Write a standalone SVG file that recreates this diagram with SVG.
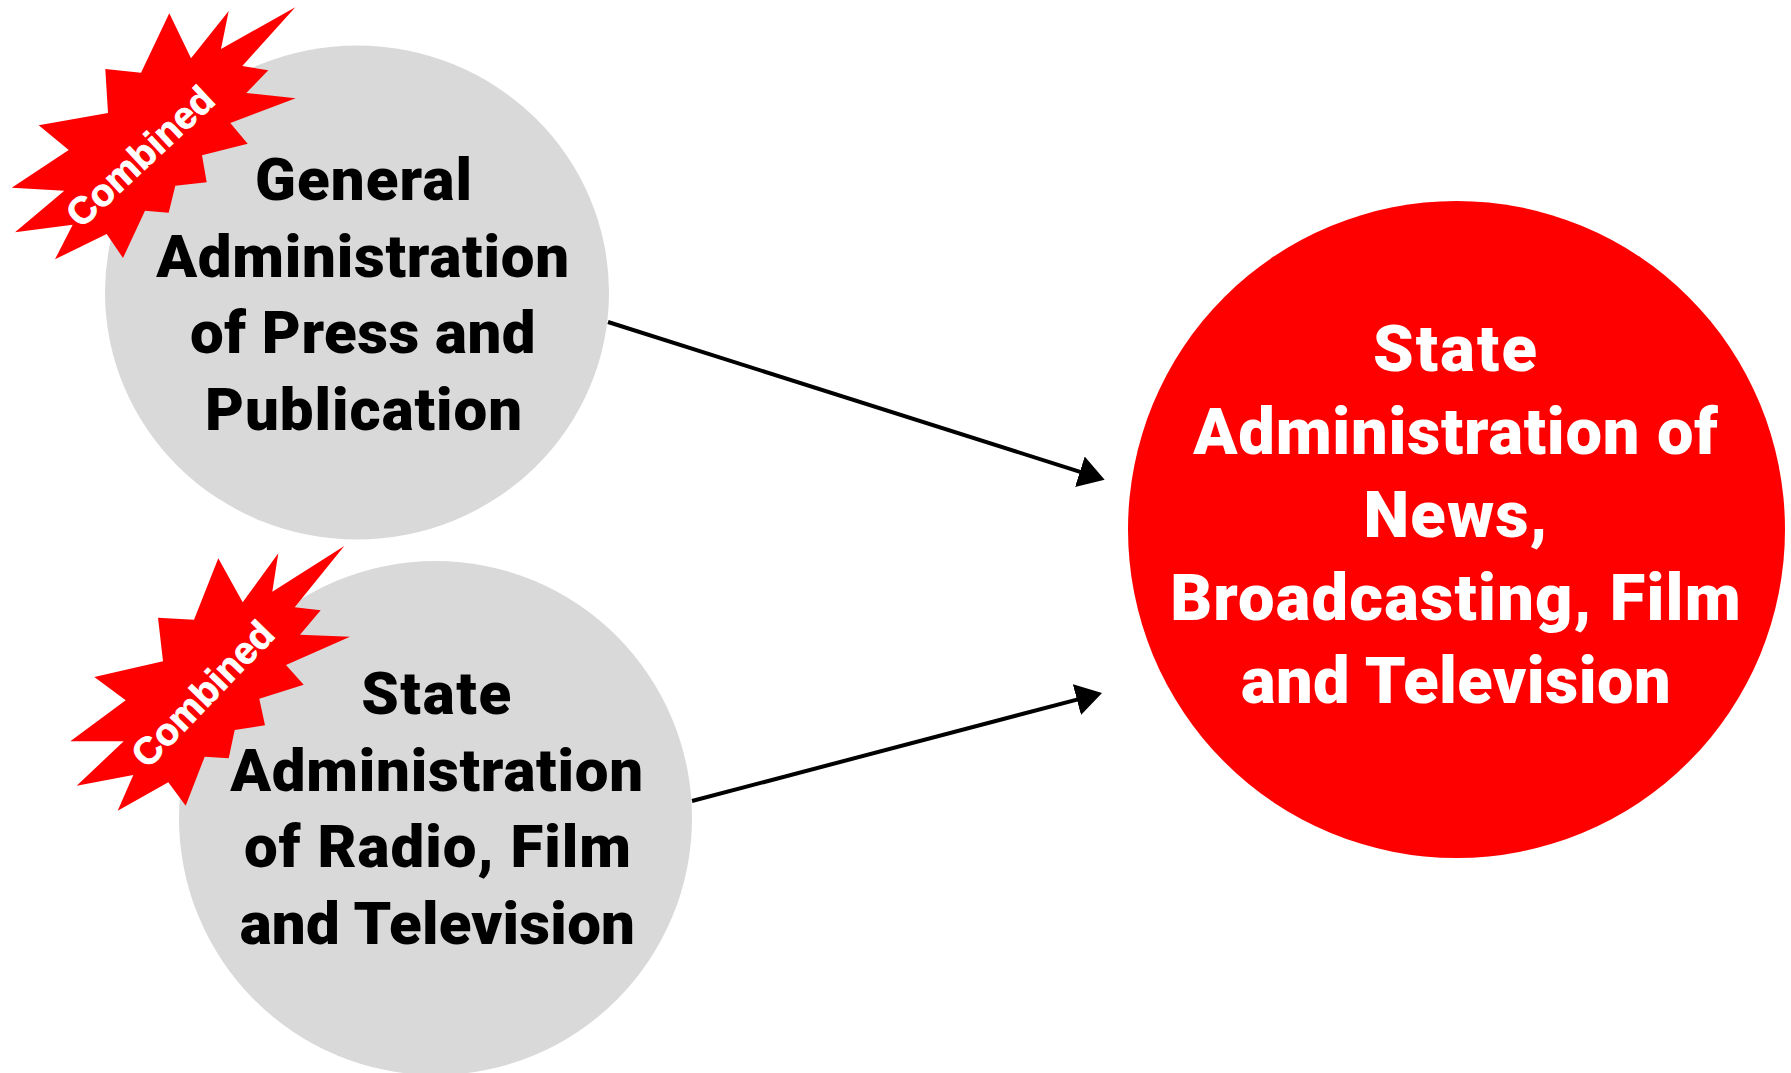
<svg xmlns="http://www.w3.org/2000/svg" width="1791" height="1073" viewBox="0 0 1791 1073">
<style>
.t{font-family:"Roboto","Liberation Sans",sans-serif;font-weight:900;text-anchor:middle}
.k{font-size:60px;letter-spacing:.76px;fill:#000}
.w{font-size:65px;letter-spacing:1.2px;fill:#fff}
.s{fill:#f00}
.c{font-family:"Liberation Sans",Arial,sans-serif;font-weight:700;font-size:38px;fill:#fff;stroke:#fff;stroke-width:.8px;text-anchor:middle}
.l{stroke:#000;stroke-width:4;fill:none;marker-end:url(#a)}
</style>
<defs><marker id="a" markerUnits="userSpaceOnUse" markerWidth="30" markerHeight="34" refX="6" refY="16" orient="auto"><path d="M0 0L26 16L0 32Z" fill="#000"/></marker></defs>
<rect width="1791" height="1073" fill="#fff"/>
<g id="connectors">
<path class="l" d="M608 322L1085.600 473.600"/>
<path class="l" d="M692 801L1082.700 698.100"/>
</g>
<g id="press">
<ellipse cx="357" cy="292.500" rx="252" ry="247" fill="#d9d9d9"/>
<text class="t k"><tspan x="364" y="200" style="letter-spacing:1.09px">General</tspan><tspan x="363" y="277">Administration</tspan><tspan x="363" y="353" style="letter-spacing:.47px">of Press and</tspan><tspan x="364" y="430" style="letter-spacing:.96px">Publication</tspan></text>
</g>
<g id="radio">
<ellipse cx="435.500" cy="818" rx="256.500" ry="257" fill="#d9d9d9"/>
<text class="t k"><tspan x="437" y="714" style="letter-spacing:1.66px">State</tspan><tspan x="437" y="791">Administration</tspan><tspan x="438" y="867" style="letter-spacing:1px">of Radio, Film</tspan><tspan x="437.500" y="944" style="letter-spacing:.27px">and Television</tspan></text>
</g>
<g id="state">
<circle cx="1456.500" cy="529.500" r="328.500" fill="#f00"/>
<text class="t w"><tspan x="1456" y="371" style="letter-spacing:2.1px">State</tspan><tspan x="1456" y="454" style="letter-spacing:.73px">Administration of</tspan><tspan x="1456" y="537">News,</tspan><tspan x="1456" y="620">Broadcasting, Film</tspan><tspan x="1456" y="703" style="letter-spacing:.4px">and Television</tspan></text>
</g>
<g id="burst1">
<polygon class="s" points="169.300,13.300 191,58.300 228.700,11 221,49 295.300,7.300 242.300,66 268.300,70.300 246.300,93 295.700,98.300 230.300,123 247.700,143.700 202,155.300 206.700,182.300 175.300,185.700 168.700,212.700 145,210.700 123,258 106.700,234 55,259.300 72.700,224.700 15,232.300 64.300,190.700 11.700,187.700 68.700,150 38.700,125.300 108,113 105.300,69 141,72.700"/>
<text class="c" transform="translate(149 166) rotate(-43)">Combined</text>
</g>
<g id="burst2">
<polygon class="s" points="218.300,558.300 242.700,602.300 278.300,553.300 272.300,591.700 344.300,546 294.700,607.300 320.700,610.300 300,634.700 350,636.700 286,665 303.700,684.700 259.300,698.700 265,725.300 234.700,730 228.700,758.300 204.700,756.700 185.700,805.700 168.300,782.300 117.700,810.700 133.300,775 76.700,785.700 123.700,741.300 70.300,741.300 125.700,700.300 94.300,677 163,661.300 158,617.700 194,619.700"/>
<text class="c" transform="translate(212 703) rotate(-46)">Combined</text>
</g>
</svg>
